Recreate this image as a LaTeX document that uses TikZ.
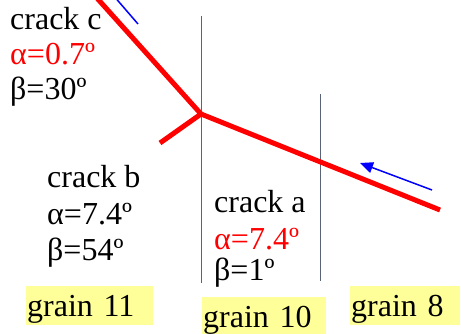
\documentclass[tikz,border=0pt]{standalone}
\usepackage{fontspec}
\setmainfont{Liberation Serif}
\usetikzlibrary{arrows.meta}
\definecolor{crackred}{RGB}{255,0,0}
\definecolor{arrowblue}{RGB}{0,0,255}
\definecolor{gbline}{RGB}{90,100,120}
\definecolor{grainyellow}{RGB}{255,255,153}
\begin{document}
\begin{tikzpicture}[x=1pt,y=-1pt,
  lbl/.style={anchor=base west,inner sep=0pt,font=\fontsize{32}{36}\selectfont},
  grainbox/.style={anchor=north west,fill=grainyellow,inner xsep=1pt,inner ysep=2pt,
    text height=28pt,text depth=7pt,align=left,font=\fontsize{32}{36}\selectfont},
  crack/.style={draw=crackred,line width=5pt},
  boundary/.style={draw=gbline,line width=1pt},
  slip/.style={draw=arrowblue,line width=1.5pt}]
\useasboundingbox (0,0) rectangle (461,334);
% grain boundaries
\coordinate (gb1t) at (201,16);
\coordinate (gb1b) at (201,283);
\coordinate (gb2t) at (320.5,94);
\coordinate (gb2b) at (320.5,281);
\draw[boundary] (gb1t) -- (gb1b);
\draw[boundary] (gb2t) -- (gb2b);
% cracks
\coordinate (J) at (201,114);
\coordinate (ct) at (96,-3);
\coordinate (be) at (160,143);
\coordinate (ae) at (440,210);
\draw[crack] (ct) -- (J);
\draw[crack] (be) -- (J);
\draw[crack] (J) -- (ae);
% slip arrows
\begin{scope}
\clip (0,0) rectangle (461,334);
\coordinate (s1a) at (113,-5);
\coordinate (s1b) at (138,24);
\draw[slip] (s1a) -- (s1b);
\end{scope}
\coordinate (s2a) at (432,190);
\coordinate (s2b) at (360,163);
\draw[slip,-{Triangle[length=13pt,width=11pt]}] (s2a) -- (s2b);
% labels
\node[lbl] (c1) at (10,30) {crack c};
\node[lbl,text=crackred] (c2) at (10,65) {α=0.7º};
\node[lbl] (c3) at (10,100) {β=30º};
\node[lbl] (b1) at (47,188) {crack b};
\node[lbl] (b2) at (47,225) {α=7.4º};
\node[lbl] (b3) at (47,260) {β=54º};
\node[lbl] (a1) at (214,213) {crack a};
\node[lbl,text=crackred] (a2) at (214,250) {α=7.4º};
\node[lbl] (a3) at (214,280) {β=1º};
% grains
\node[grainbox,text width=125pt] (g11) at (26,286) {grain 11};
\node[grainbox,text width=122pt] (g10) at (202,297) {grain 10};
\node[grainbox,text width=108pt] (g8) at (350,286) {grain 8};
\end{tikzpicture}
\end{document}
